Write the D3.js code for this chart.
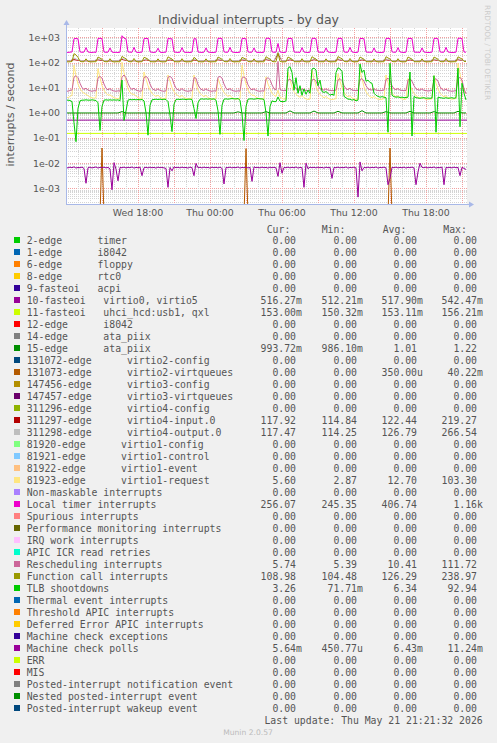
<!DOCTYPE html>
<html><head><meta charset="utf-8">
<script src="https://cdn.jsdelivr.net/npm/d3@7"></script>
<style>
html,body{margin:0;padding:0;background:#f0f0f0;}
svg{display:block;}
</style></head><body>
<svg id="c" width="497" height="743"></svg>
<script>
// ---------- time frame ----------
const startTime = "2026-05-20T12:00";
const endTime = "2026-05-21T21:20";

// ---------- axis ticks ----------
const yTickValues = [1e3, 1e2, 1e1, 1e0, 1e-1, 1e-2, 1e-3];
const yTickLabels = ["1e+03", "1e+02", "1e+01", "1e+00", "1e-01", "1e-02", "1e-03"];
const xTickTimes = ["2026-05-20T18:00", "2026-05-21T00:00", "2026-05-21T06:00", "2026-05-21T12:00", "2026-05-21T18:00"];
const xTickLabels = ["Wed 18:00", "Thu 00:00", "Thu 06:00", "Thu 12:00", "Thu 18:00"];

// ---------- series values (interrupts / second) ----------
// 10-minute samples
const localTimer = [
255,252,258,262,880,900,870,265,255,260,
390,262,255,250,258,252,890,920,880,262,
255,258,380,260,252,255,250,258,1160,930,
870,265,258,255,400,262,250,255,258,880,
910,890,268,255,252,260,370,258,250,255,
258,900,880,870,265,255,252,258,390,260,
252,255,250,258,890,870,262,255,252,258,
380,260,255,250,252,258,900,920,880,265,
255,258,400,262,255,250,252,258,890,900,
870,265,255,258,380,260,252,255,250,258,
900,930,880,265,255,258,570,262,255,250,
258,890,910,880,265,255,258,252,390,260,
255,250,258,900,920,870,265,255,258,252,
380,262,255,250,252,258,890,920,880,265,
255,258,400,262,255,250,258,900,900,870,
265,255,258,252,380,260,255,250,252,258,
890,920,880,265,255,258,390,262,255,250,
258,900,910,880,265,255,258,252,380,260,
255,250,252,258,890,920,870,265,255,258,
400,262,255,250,252,258,900,930,880,262,
256];
const functionCall = [
108,106,107,110,225,200,160,112,107,108,
140,110,107,106,108,107,165,150,135,110,
107,108,142,109,106,107,108,106,175,155,
140,112,107,108,145,110,106,107,108,160,
150,135,110,107,106,108,140,109,107,106,
108,168,150,138,111,107,106,108,142,110,
107,106,108,107,160,140,111,107,106,108,
140,109,107,106,108,107,165,150,135,110,
107,108,145,110,106,107,108,106,160,148,
135,110,107,108,140,109,106,107,108,106,
170,150,138,111,107,108,239,110,107,106,
108,165,150,135,110,107,108,106,142,109,
107,106,108,170,150,138,111,107,108,106,
140,110,107,106,108,107,172,155,140,112,
107,108,145,110,106,107,108,165,150,135,
110,107,108,106,140,109,107,106,108,107,
170,152,138,111,107,108,142,110,107,106,
108,165,150,136,110,107,108,106,140,109,
107,106,108,107,165,150,135,110,107,108,
145,110,107,106,108,107,168,152,138,111,
109];
const rescheduling = [
7.5,7.2,7.8,8,26,30,25,15,10,8.5,
9.5,8,7.5,7.2,7.6,7.4,24,28,24,14,
9.5,8.2,9.2,7.8,7.4,7.2,7.5,7.3,26,32,
25,15,10,8.5,9.5,8,7.5,7.2,7.6,25,
28,24,14,9.5,8.2,7.8,9,7.8,7.4,7.2,
7.5,26,28,24,14,9.5,8.2,7.8,9.2,7.8,
7.4,7.2,7.5,7.6,25,24,13,9.5,8.2,7.8,
9,7.8,7.4,7.2,7.5,7.3,26,28,24,14,
9.5,8.2,9.2,7.8,7.4,7.2,7.5,7.3,24,27,
23,13,9.5,8.2,9,7.8,7.4,7.2,7.5,7.3,
22,25,21,13,9,8.2,111,8.5,7.8,7.6,
7.8,20,22,18,12,9,8.2,8,9,8,
7.8,7.6,7.8,20,22,18,12,9,8.4,8,
9,8,7.8,7.6,7.8,8,20,23,19,12,
9,8.4,9.5,8,7.8,7.6,7.8,21,23,18,
12,9,8.4,8,9,8,7.8,7.6,7.8,8,
21,24,19,12,9,8.4,9.2,8,7.8,7.6,
7.8,20,23,18,12,9,8.2,8,9,7.8,
7.6,7.4,7.6,7.8,20,23,18,11,8.5,7.8,
8.8,7.6,7.4,7.2,7.4,7.6,22,26,20,9,
5.74];
const virtio1Request = [
4.2,4,4.5,5,78,30,14,9,7,6,
5.5,4.8,4.2,4,3.8,4,58,25,12,8,
6,5,5.2,4.5,4,3.8,3.6,4,103,40,
18,9,6.5,5.5,5.5,4.6,4,3.8,3.6,42,
22,12,8,6,5,4.5,5,4.2,3.8,3.6,
3.8,32,18,10,7,5.5,4.8,4.2,5,4,
3.8,3.6,3.7,3.8,32,15,8,6,5,4.4,
5,4,3.7,3.5,3.6,3.8,23,14,9,6.5,
5.2,4.5,5,4,3.7,3.5,3.6,3.8,78,30,
14,8,6,5,5,4.2,3.8,3.6,3.5,3.7,
27,14,9,6,5,4.5,8,4.2,3.8,3.5,
3.6,42,20,11,7,5.5,4.6,4.2,4.8,4,
3.6,3.4,3.5,50,22,12,7,5.5,4.5,4,
4.5,3.8,3.5,3.4,3.5,3.7,36,18,10,6.5,
5,4.3,4.8,3.9,3.6,3.4,3.5,48,22,11,
7,5.2,4.4,4,4.5,3.8,3.5,3.4,3.5,3.7,
32,16,9,6,5,4.3,4.8,3.9,3.6,3.4,
3.5,23,13,8,6,4.8,4.2,3.8,4.4,3.7,
3.5,3.4,3.5,3.6,30,15,9,6,5,4.3,
4.8,4,3.7,3.5,3.6,3.8,92,35,15,8,
5.6];
const tlbShootdowns = [
3.2,3.2,3.1,2.8,0.4,0.0717,1.5,3.0,3.2,3.2,
3.3,3.2,3.2,3.3,3.2,3.1,2.5,0.2,1.8,3.2,
3.3,3.2,3.3,3.2,3.3,3.2,3.3,3.0,20,0.5,
1.2,3.2,3.4,3.3,3.4,3.3,3.4,3.3,3.4,3.0,
1.0,0.13,2.0,3.3,3.4,3.5,3.4,3.5,3.4,3.5,
3.4,2.8,0.8,0.18,2.2,3.4,3.5,3.4,3.5,3.5,
3.4,3.5,3.5,3.4,1.5,0.6,2.5,3.5,3.6,3.5,
3.6,3.5,3.6,3.5,3.6,3.2,1.2,0.14,2.0,3.5,
3.6,3.5,3.6,3.7,3.6,3.6,3.7,3.2,0.9,0.08,
1.8,3.5,3.6,3.6,3.5,3.6,3.7,3.6,3.6,3.4,
1.0,0.12,1.8,3.0,2.8,2.8,4.3,2.9,2.8,2.8,
3.0,60,68,40,8,25,6,12,5,9,
5.5,8,6,55,60,50,12,20,7,6.5,
7,6,5,5.5,5,40,62,55,45,4.5,
4,3.5,3.5,3.2,3.4,3.0,3.2,87,40,50,
18,20,16,15,6,5,4.5,4.2,4.4,4.2,
4,0.17,92.94,5,4.4,4.2,4.3,4.1,4.2,4,
4.1,4.2,42,0.12,4.5,4,3.9,3.8,3.9,4,
3.8,3.9,3.8,3.9,30,0.17,4.2,4,3.9,3.8,
4,3.8,3.9,4,3.8,4,60,0.28,15,6,
3.26];
const machineCheckPolls = [
.0068,.0065,.0070,.0066,.0072,.0064,.0068,.0066,.0070,.0062,
.0016,.0066,.0070,.0065,.0068,.0071,.0064,.0069,.0066,.0070,
.0065,.0068,.0060,.00088,.0105,.0058,.0020,.0068,.0066,.0070,
.0065,.0069,.0066,.0071,.0064,.0068,.0066,.0070,.0032,.0066,
.0069,.0065,.0070,.0066,.0068,.0064,.0070,.0066,.0069,.0065,
.0062,.0011,.0068,.0050,.0072,.0066,.0069,.0065,.0070,.0066,
.0068,.0064,.0070,.0066,.0032,.0098,.0066,.0069,.0065,.0070,
.0066,.0068,.0064,.0070,.0066,.0069,.0065,.0070,.0062,.0015,
.0068,.0066,.0070,.0065,.0069,.0066,.0071,.0064,.0068,.0066,
.0070,.0065,.0068,.0019,.0072,.0066,.0069,.0065,.0070,.0066,
.0068,.0064,.0070,.0066,.0069,.0065,.0030,.0105,.0040,.0068,
.0066,.0070,.0065,.0069,.0066,.0071,.0064,.0068,.0066,.0011,
.0100,.0060,.0070,.0066,.0069,.0065,.0070,.0066,.0068,.0064,
.0070,.0066,.0069,.0025,.0068,.0066,.0070,.0065,.0069,.0066,
.0071,.0064,.0068,.0066,.0070,.0065,.00045077,.01124,.0050,.0068,
.0066,.0070,.0065,.0069,.0066,.0071,.0064,.0068,.0066,.0070,
.0065,.0014,.0025,.0069,.0066,.0070,.0065,.0068,.0066,.0070,
.0064,.0069,.0066,.0070,.0065,.0014,.0045,.0100,.0068,.0066,
.0070,.0065,.0069,.0066,.0071,.0064,.0068,.0066,.0070,.0014,
.0068,.0066,.0069,.0065,.0070,.0066,.0068,.0032,.0069,.0062,
.00564];
const virtio2Virtqueues = [
0,0,0,0,0,0,0,0,0,0,
0,0,0,0,0,0,0,0,.0402,0,
0,0,0,0,0,0,0,0,0,0,
0,0,0,0,0,0,0,0,0,0,
0,0,0,0,0,0,0,0,0,0,
0,0,0,0,0,0,0,0,0,0,
0,0,0,0,0,0,0,0,0,0,
0,0,0,0,0,0,0,0,0,0,
0,0,0,0,0,0,0,0,0,0,
.038,0,0,0,0,0,0,0,0,0,
0,0,0,0,0,0,0,0,0,0,
0,0,0,0,0,0,0,0,0,0,
0,0,0,0,0,0,0,0,0,0,
0,0,0,0,0,0,0,0,0,0,
0,0,0,0,0,0,0,0,0,0,
0,0,0,0,0,0,0,0,0,0,
0,0,.0400,0,0,0,0,0,0,0,
0,0,0,0,0,0,0,0,0,0,
0,0,0,0,0,0,0,0,0,0,
0,0,0,0,0,0,0,0,0,0,
0];
// 20-minute samples
const virtio4Input = [
116,117,130,122,116,117,115,116,128,120,
116,115,117,116,132,121,116,117,115,116,
128,118,116,115,117,116,127,118,116,117,
115,116,126,117,116,115,117,116,128,121,
116,117,115,116,127,120,116,117,115,116,
130,121,116,219,116,117,128,118,116,115,
117,116,129,119,116,117,115,116,130,121,
116,117,115,116,127,118,116,115,117,116,
128,120,116,117,115,116,127,118,116,117,
115,116,128,120,116,117,115,116,129,121,
118];
const virtio4Output = [
118,117,150,128,118,117,119,118,140,125,
118,117,119,118,145,126,118,117,119,118,
138,122,118,117,119,118,136,121,118,117,
119,118,135,120,118,117,119,118,140,124,
118,117,119,118,138,123,118,117,119,118,
142,124,118,266,118,117,140,121,118,117,
119,118,141,122,118,117,119,118,142,124,
118,117,119,118,138,121,118,117,119,118,
140,123,118,117,119,118,137,121,118,117,
119,118,139,123,118,117,119,118,141,124,
117.5];
const ataPiix15 = [
.99,.99,.99,.99,.99,.99,.99,.99,.99,.99,
.99,.99,.99,.99,1.12,.99,.99,.99,.99,.99,
.99,.99,.99,.99,.99,.99,.99,.99,.99,.99,
.99,.99,.99,.99,.99,.99,.99,.99,.99,.99,
.99,.99,.99,1.1,.99,.99,.99,.99,.99,.99,
1.12,.99,.99,.99,.99,.99,1.2,.99,.99,.99,
.99,.99,1.18,.99,.99,.99,.99,.99,1.15,.99,
.99,.99,.99,.99,1.22,.99,.99,.99,.99,.99,
1.12,.99,.99,.99,.99,.99,1.15,.99,.99,.99,
.99,.99,1.12,.99,.99,.99,.99,.99,1.15,.99,
.994];
// hourly samples
const virtio0Fasteoi = [
.516,.515,.517,.516,.518,.516,.515,.517,.516,.52,
.516,.515,.517,.516,.518,.516,.515,.517,.516,.519,
.516,.515,.517,.516,.518,.516,.515,.517,.516,.52,
.516,.515,.517,.516,.516];
const uhciFasteoi = [
.153,.153,.1532,.153,.1529,.1531,.153,.153,.1532,.153,
.153,.1505,.153,.1531,.153,.153,.1532,.153,.153,.1531,
.153,.153,.1532,.153,.153,.1531,.153,.153,.1532,.153,
.153,.1531,.153,.153,.153];

// ---------- legend ----------
const legendNames = [
"2-edge      timer","1-edge      i8042","6-edge      floppy","8-edge      rtc0","9-fasteoi   acpi",
"10-fasteoi   virtio0, virtio5","11-fasteoi   uhci_hcd:usb1, qxl","12-edge      i8042","14-edge      ata_piix","15-edge      ata_piix",
"131072-edge      virtio2-config","131073-edge      virtio2-virtqueues","147456-edge      virtio3-config","147457-edge      virtio3-virtqueues","311296-edge      virtio4-config",
"311297-edge      virtio4-input.0","311298-edge      virtio4-output.0","81920-edge      virtio1-config","81921-edge      virtio1-control","81922-edge      virtio1-event",
"81923-edge      virtio1-request","Non-maskable interrupts","Local timer interrupts","Spurious interrupts","Performance monitoring interrupts",
"IRQ work interrupts","APIC ICR read retries","Rescheduling interrupts","Function call interrupts","TLB shootdowns",
"Thermal event interrupts","Threshold APIC interrupts","Deferred Error APIC interrupts","Machine check exceptions","Machine check polls",
"ERR","MIS","Posted-interrupt notification event","Nested posted-interrupt event","Posted-interrupt wakeup event"];
const legendColors = [
"#00CC00","#0066B3","#FF8000","#FFCC00","#330099","#990099","#CCFF00","#FF0000","#808080","#008F00",
"#00487D","#B35A00","#B38F00","#6B006B","#8FB300","#B30000","#BEBEBE","#80FF80","#80C9FF","#FFC080",
"#FFE680","#AA80FF","#EE00CC","#FF8080","#666600","#FFBFFF","#00FFCC","#CC6699","#999900","#00CC00",
"#0066B3","#FF8000","#FFCC00","#330099","#990099","#CCFF00","#FF0000","#808080","#008F00","#00487D"];
const Z = "0.00 ";
const curVals = [Z,Z,Z,Z,Z,"516.27m","153.00m",Z,Z,"993.72m",Z,Z,Z,Z,Z,"117.92 ","117.47 ",Z,Z,Z,"5.60 ",Z,"256.07 ",Z,Z,Z,Z,"5.74 ","108.98 ","3.26 ",Z,Z,Z,Z,"5.64m",Z,Z,Z,Z,Z];
const minVals = [Z,Z,Z,Z,Z,"512.21m","150.32m",Z,Z,"986.10m",Z,Z,Z,Z,Z,"114.84 ","114.25 ",Z,Z,Z,"2.87 ",Z,"245.35 ",Z,Z,Z,Z,"5.39 ","104.48 ","71.71m",Z,Z,Z,Z,"450.77u",Z,Z,Z,Z,Z];
const avgVals = [Z,Z,Z,Z,Z,"517.90m","153.11m",Z,Z,"1.01 ",Z,"350.00u",Z,Z,Z,"122.44 ","126.79 ",Z,Z,Z,"12.70 ",Z,"406.74 ",Z,Z,Z,Z,"10.41 ","126.29 ","6.34 ",Z,Z,Z,Z,"6.43m",Z,Z,Z,Z,Z];
const maxVals = [Z,Z,Z,Z,Z,"542.47m","156.21m",Z,Z,"1.22 ",Z,"40.22m",Z,Z,Z,"219.27 ","266.54 ",Z,Z,Z,"103.30 ",Z,"1.16k",Z,Z,Z,Z,"111.72 ","238.97 ","92.94 ",Z,Z,Z,Z,"11.24m",Z,Z,Z,Z,Z];

// drawn series in legend order (stepMinutes = sampling step)
const drawn = [
  {idx: 5, step: 60, values: virtio0Fasteoi},
  {idx: 6, step: 60, values: uhciFasteoi},
  {idx: 9, step: 20, values: ataPiix15},
  {idx: 11, step: 10, values: virtio2Virtqueues},
  {idx: 15, step: 20, values: virtio4Input},
  {idx: 16, step: 20, values: virtio4Output},
  {idx: 20, step: 10, values: virtio1Request},
  {idx: 22, step: 10, values: localTimer},
  {idx: 27, step: 10, values: rescheduling},
  {idx: 28, step: 10, values: functionCall},
  {idx: 29, step: 10, values: tlbShootdowns},
  {idx: 34, step: 10, values: machineCheckPolls}
];

// ---------- drawing ----------
const W = 497, H = 743;
const PL = 66, PR = 467, PT = 28, PB = 204;
const svg = d3.select("#c");
const SANS = "'DejaVu Sans', sans-serif";
const MONO = "'DejaVu Sans Mono', monospace";

svg.append("rect").attr("width", W).attr("height", H).attr("fill", "#f0f0f0");

const t0 = new Date(startTime), t1 = new Date(endTime);
const x = d3.scaleTime().domain([t0, t1]).range([PL, PR - 1]);
const y = d3.scaleLog().domain([2.4e-4, 2350]).range([PB, PT]);

svg.append("rect").attr("x", PL).attr("y", PT).attr("width", PR - PL).attr("height", PB - PT).attr("fill", "#ffffff");

const grid = svg.append("g").attr("shape-rendering", "crispEdges");
// horizontal grid
const [dmin, dmax] = y.domain();
for (let k = -4; k <= 3; k++) {
  for (let m = 1; m <= 9; m++) {
    const v = m * Math.pow(10, k);
    if (v < dmin || v > dmax) continue;
    const yy = Math.round(y(v)) + 0.5;
    grid.append("line").attr("x1", PL).attr("x2", PR).attr("y1", yy).attr("y2", yy)
      .attr("stroke", m === 1 ? "#f2a0a0" : "#d4d4d4").attr("stroke-dasharray", "1,1");
  }
}
// vertical grid
d3.timeHour.range(d3.timeHour.ceil(t0), t1).forEach(t => {
  const xx = Math.round(x(t)) + 0.5;
  const major = t.getHours() % 3 === 0;
  grid.append("line").attr("x1", xx).attr("x2", xx).attr("y1", PT).attr("y2", PB)
    .attr("stroke", major ? "#f2a0a0" : "#d4d4d4").attr("stroke-dasharray", "1,1");
});

// series
const clip = svg.append("clipPath").attr("id", "pc");
clip.append("rect").attr("x", PL).attr("y", PT).attr("width", PR - PL).attr("height", PB - PT);
const lines = svg.append("g").attr("clip-path", "url(#pc)");
const lineGen = d3.line();
drawn.forEach(s => {
  const pts = s.values.map((v, i) => [x(new Date(t0.getTime() + i * s.step * 60000)), v > 0 ? y(v) : PB + 12]);
  const runs = [];
  let cur = null;
  for (let i = 0; i < pts.length - 1; i++) {
    const active = s.values[i] > 0 || s.values[i + 1] > 0;
    if (active) { if (!cur) cur = [pts[i]]; cur.push(pts[i + 1]); }
    else if (cur) { runs.push(cur); cur = null; }
  }
  if (cur) runs.push(cur);
  runs.forEach(r => {
    lines.append("path").attr("d", lineGen(r)).attr("fill", "none")
      .attr("stroke", legendColors[s.idx]).attr("stroke-width", 1).attr("stroke-linejoin", "round");
  });
});

// axes
const axisColor = "#a8b8e8";
svg.append("line").attr("x1", PL + 0.5).attr("x2", PL + 0.5).attr("y1", PB).attr("y2", PT - 4)
  .attr("stroke", axisColor).attr("shape-rendering", "crispEdges");
svg.append("line").attr("x1", PL).attr("x2", PR + 3).attr("y1", PB + 0.5).attr("y2", PB + 0.5)
  .attr("stroke", axisColor).attr("shape-rendering", "crispEdges");
svg.append("path").attr("d", `M${PL - 2.5},${PT - 3} L${PL + 3.5},${PT - 3} L${PL + 0.5},${PT - 8} Z`).attr("fill", axisColor);
svg.append("path").attr("d", `M${PR + 2},${PB - 2.5} L${PR + 2},${PB + 3.5} L${PR + 7},${PB + 0.5} Z`).attr("fill", axisColor);

// tick labels
yTickValues.forEach((v, i) => {
  svg.append("text").attr("x", 60).attr("y", y(v) + 3.4).attr("text-anchor", "end")
    .attr("font-family", SANS).attr("font-size", 9.4).attr("fill", "#555").text(yTickLabels[i]);
});
xTickTimes.forEach((t, i) => {
  svg.append("text").attr("x", x(new Date(t))).attr("y", 216).attr("text-anchor", "middle")
    .attr("font-family", SANS).attr("font-size", 9.4).attr("fill", "#555").text(xTickLabels[i]);
});

// titles
svg.append("text").attr("x", 248.5).attr("y", 24).attr("text-anchor", "middle")
  .attr("font-family", SANS).attr("font-size", 12.5).attr("fill", "#555").text("Individual interrupts - by day");
svg.append("text").attr("transform", "translate(14,114.5) rotate(-90)").attr("text-anchor", "middle")
  .attr("font-family", SANS).attr("font-size", 11).attr("fill", "#555").text("interrupts / second");
svg.append("text").attr("transform", "translate(485,5) rotate(90)").attr("text-anchor", "start")
  .attr("font-family", SANS).attr("font-size", 7.4).attr("fill", "#cccccc").text("RRDTOOL / TOBI OETIKER");

// legend
const LG = svg.append("g").attr("font-family", MONO).attr("font-size", 9.8).attr("fill", "#555");
const headers = [["Cur:", 266.7], ["Min:", 321.7], ["Avg:", 382.7], ["Max:", 443.3]];
headers.forEach(h => LG.append("text").attr("x", h[1]).attr("y", 233).text(h[0]));
const colEnds = [296, 357, 417, 477];
const cols = [curVals, minVals, avgVals, maxVals];
legendNames.forEach((name, k) => {
  const cy = 240 + 12 * k;
  LG.append("rect").attr("x", 14).attr("y", cy - 3).attr("width", 6).attr("height", 6).attr("fill", legendColors[k]);
  LG.append("text").attr("x", 26.7).attr("y", cy + 3.7).attr("xml:space", "preserve").style("white-space", "pre").text(name);
  cols.forEach((arr, c) => {
    const s = arr[k];
    const num = s.slice(0, -1), unit = s.slice(-1);
    LG.append("text").attr("x", colEnds[c]).attr("y", cy + 3.7).attr("text-anchor", "end").text(num);
    if (unit.trim()) LG.append("text").attr("x", colEnds[c]).attr("y", cy + 3.7).text(unit);
  });
});
LG.append("text").attr("x", 482.7).attr("y", 240 + 12 * 40 + 3.7).attr("text-anchor", "end")
  .text("Last update: Thu May 21 21:21:32 2026");
svg.append("text").attr("x", 248).attr("y", 734.5).attr("text-anchor", "middle")
  .attr("font-family", SANS).attr("font-size", 7.6).attr("fill", "#bbbbbb").text("Munin 2.0.57");
</script>
</body></html>
